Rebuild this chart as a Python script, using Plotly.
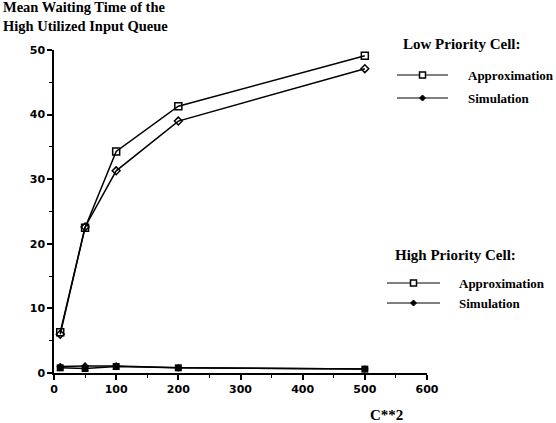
import plotly.graph_objects as go

c2 = [10, 50, 100, 200, 500]
low_approx = [6.3, 22.5, 34.3, 41.3, 49.1]
low_sim = [6.0, 22.6, 31.3, 39.0, 47.1]
high_approx = [0.8, 0.7, 1.0, 0.8, 0.6]
high_sim = [1.0, 1.1, 1.1, 0.8, 0.6]

x_ticks = [0, 100, 200, 300, 400, 500, 600]
y_ticks = [0, 10, 20, 30, 40, 50]

W, H = 556, 423
L, R, T, B = 54, 129, 50, 50
PW, PH = W - L - R, H - T - B

def px(x):
    return (x - L) / PW

def py(y):
    return (H - B - y) / PH

SERIF = "Liberation Serif"
SANS = "DejaVu Sans"
line = dict(color="black", width=1.5)

fig = go.Figure()
fig.add_trace(go.Scatter(x=c2, y=low_approx, mode="lines+markers", line=line,
                         marker=dict(symbol="square-open", size=7, color="black", line=dict(width=1.5))))
fig.add_trace(go.Scatter(x=c2, y=low_sim, mode="lines+markers", line=line,
                         marker=dict(symbol="diamond-open", size=6, color="black", line=dict(width=1.5))))
fig.add_trace(go.Scatter(x=c2, y=high_approx, mode="lines+markers", line=line,
                         marker=dict(symbol="square", size=7, color="black")))
fig.add_trace(go.Scatter(x=c2, y=high_sim, mode="lines+markers", line=line,
                         marker=dict(symbol="diamond", size=6, color="black")))

shapes = []
annotations = []

annotations.append(dict(text="Mean Waiting Time of the<br>High Utilized Input Queue",
                        xref="paper", yref="paper", x=px(1), y=py(-3), xanchor="left", yanchor="top",
                        align="left", showarrow=False,
                        font=dict(family=SERIF, size=14.5, color="black", weight="bold")))
annotations.append(dict(text="C**2", xref="paper", yref="paper", x=px(386), y=py(415),
                        xanchor="center", yanchor="middle", showarrow=False,
                        font=dict(family=SERIF, size=15, color="black", weight="bold")))

def legend_block(title, tx, ty, y1, y2, lx0, lx1, textx, filled):
    annotations.append(dict(text=title, xref="paper", yref="paper", x=px(tx), y=py(ty),
                            xanchor="left", yanchor="middle", showarrow=False,
                            font=dict(family=SERIF, size=15, color="black", weight="bold")))
    for yy, lab, sym in [(y1, "Approximation", "sq"), (y2, "Simulation", "di")]:
        shapes.append(dict(type="line", xref="paper", yref="paper", x0=px(lx0), x1=px(lx1),
                           y0=py(yy), y1=py(yy), line=dict(color="black", width=1.2)))
        cx = (lx0 + lx1) / 2
        if sym == "sq":
            shapes.append(dict(type="rect", xref="paper", yref="paper", x0=px(cx - 3), x1=px(cx + 3),
                               y0=py(yy + 3), y1=py(yy - 3), line=dict(color="black", width=1.5),
                               fillcolor="black" if filled else "white"))
        else:
            shapes.append(dict(type="path", xref="paper", yref="paper",
                               path=f"M {px(cx-3)} {py(yy)} L {px(cx)} {py(yy-3)} L {px(cx+3)} {py(yy)} L {px(cx)} {py(yy+3)} Z",
                               line=dict(color="black", width=1), fillcolor="black"))
        annotations.append(dict(text=lab, xref="paper", yref="paper", x=px(textx), y=py(yy),
                                xanchor="left", yanchor="middle", showarrow=False,
                                font=dict(family=SERIF, size=13, color="black", weight="bold")))

legend_block("Low Priority Cell:", 401, 44, 75, 98, 397, 448, 466, False)
legend_block("High Priority Cell:", 393, 255, 283, 303, 387, 440, 457, False)

axis_common = dict(showgrid=False, zeroline=False, showline=True, linecolor="black", linewidth=1.5,
                   ticks="outside", ticklen=5, tickwidth=1.5, tickcolor="black",
                   tickfont=dict(family=SANS, size=11, color="black", weight="bold"))

fig.update_layout(
    width=W, height=H, margin=dict(l=L, r=R, t=T, b=B),
    paper_bgcolor="white", plot_bgcolor="white", showlegend=False,
    xaxis=dict(range=[0, 600], tickvals=x_ticks, ticktext=[str(v) for v in x_ticks],
               minor=dict(dtick=50, ticks="outside", ticklen=3, tickcolor="black", tickwidth=1.2),
               **axis_common),
    yaxis=dict(range=[0, 50], tickvals=y_ticks, ticktext=[str(v) for v in y_ticks],
               minor=dict(dtick=5, ticks="outside", ticklen=3, tickcolor="black", tickwidth=1.2),
               **axis_common),
    shapes=shapes, annotations=annotations,
)
for tr in fig.data:
    tr.cliponaxis = False

fig.write_html("out.html")
